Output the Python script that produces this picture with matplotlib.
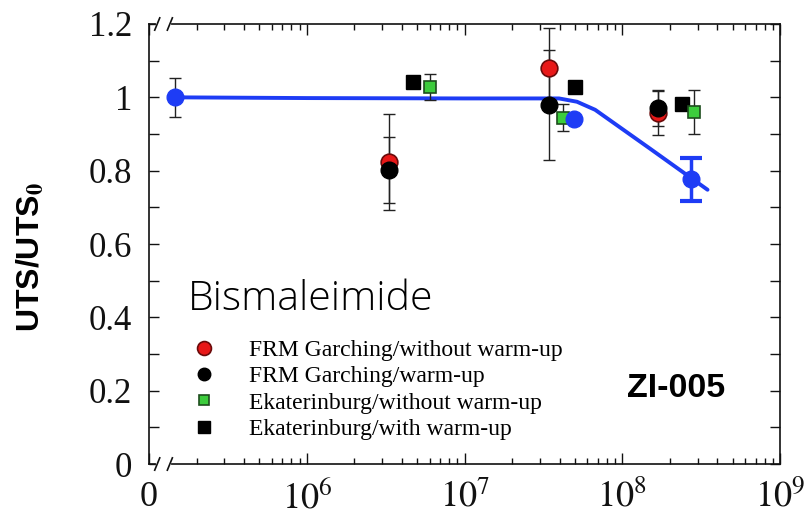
import numpy as np
import matplotlib
matplotlib.use("Agg")
import matplotlib.pyplot as plt
from matplotlib.lines import Line2D
from matplotlib.ticker import FixedLocator, FixedFormatter, MultipleLocator

plt.rcParams.update({"mathtext.fontset": "stix", "font.family": "Liberation Serif"})

# dose axis (the "0" dose sits at the left edge, 1e5 on the log scale)
x_ticks = [1e5, 1e6, 1e7, 1e8, 1e9]
x_labels = ["0", "$10^{6}$", "$10^{7}$", "$10^{8}$", "$10^{9}$"]

# FRM Garching / without warm-up
frm_no_x = [3.33e6, 3.43e7, 1.69e8]
frm_no_y = [0.824, 1.080, 0.958]
frm_no_err = [0.13, 0.11, 0.06]
# FRM Garching / warm-up
frm_w_x = [3.33e6, 3.43e7, 1.69e8]
frm_w_y = [0.803, 0.980, 0.971]
frm_w_err = [0.09, 0.15, 0.05]
# Ekaterinburg / without warm-up
ek_no_x = [6.07e6, 4.2e7, 2.83e8]
ek_no_y = [1.028, 0.944, 0.961]
ek_no_err = [0.035, 0.037, 0.06]
# Ekaterinburg / with warm-up
ek_w_x = [4.73e6, 5.0e7, 2.38e8]
ek_w_y = [1.042, 1.028, 0.982]
# blue overlay (reference + new data)
blue_x = [1.46e5, 4.94e7, 2.71e8]
blue_y = [1.0, 0.941, 0.776]
blue_err = [0.053, 0.0, 0.058]
# hand-drawn trend line
fit_x = [1.46e5, 1e6, 1e7, 3.97e7, 5.16e7, 6.73e7, 1.5e8, 2.71e8, 3.47e8]
fit_y = [1.0, 0.998, 0.997, 0.997, 0.988, 0.966, 0.860, 0.781, 0.748]

RED, GREEN, BLUE = "#e81818", "#3ccc3c", "#1e3cf5"

fig = plt.figure(figsize=(8.06, 5.15), dpi=100)
ax = fig.add_axes([0.1849, 0.099, 0.7829, 0.8544])
ax.set_xscale("log")
ax.set_xlim(1e5, 1e9)
ax.set_ylim(0, 1.2)

ax.plot(fit_x, fit_y, color=BLUE, lw=2.8, zorder=2, solid_capstyle="round")

eb = dict(fmt="none", ecolor="#222222", elinewidth=1.0, capsize=4, capthick=1.0, zorder=3)
ax.errorbar(frm_no_x, frm_no_y, yerr=frm_no_err, **eb)
ax.errorbar(frm_w_x, frm_w_y, yerr=frm_w_err, **eb)
ax.errorbar(ek_no_x, ek_no_y, yerr=ek_no_err, **eb)
ax.errorbar(blue_x[:1], blue_y[:1], yerr=blue_err[:1], **eb)
ax.errorbar(blue_x[2:], blue_y[2:], yerr=blue_err[2:], fmt="none", ecolor=BLUE,
            elinewidth=2.5, capsize=8, capthick=3, zorder=3)

ax.plot(frm_no_x, frm_no_y, "o", ms=12, mfc=RED, mec="#6a0a0a", mew=1.2, ls="none", zorder=4)
ax.plot(frm_w_x, frm_w_y, "o", ms=12, mfc="black", mec="black", ls="none", zorder=5)
ax.plot(ek_w_x, ek_w_y, "s", ms=10, mfc="black", mec="black", ls="none", zorder=4)
ax.plot(ek_no_x, ek_no_y, "s", ms=9, mfc=GREEN, mec="#1d4d1d", mew=1.2, ls="none", zorder=5)
ax.plot(blue_x, blue_y, "o", ms=12, mfc=BLUE, mec=BLUE, ls="none", zorder=6)

# axes / ticks
ax.xaxis.set_major_locator(FixedLocator(x_ticks))
ax.xaxis.set_major_formatter(FixedFormatter(x_labels))
minors = [m * 10**e for e in range(5, 9) for m in range(2, 10)]
ax.xaxis.set_minor_locator(FixedLocator(minors))
ax.xaxis.set_minor_formatter(FixedFormatter([""] * len(minors)))
ax.yaxis.set_minor_locator(MultipleLocator(0.1))
ax.set_yticks([0, 0.2, 0.4, 0.6, 0.8, 1.0, 1.2])
ax.set_yticklabels(["0", "0.2", "0.4", "0.6", "0.8", "1", "1.2"])
ax.tick_params(which="both", direction="in", top=True, right=True, width=1.0,
               labelsize=25, colors="#111111")
ax.tick_params(axis="x", which="major", length=8, pad=12, labelsize=26)
ax.tick_params(axis="x", which="minor", length=4.5)
ax.tick_params(axis="y", which="both", length=7, pad=12)
for s in ax.spines.values():
    s.set_linewidth(1.2)
    s.set_color("#111111")

# axis break marks near the zero dose
for yb in (0, 1):
    ax.plot([0.015, 0.032], [yb, yb], color="white", lw=3, transform=ax.transAxes,
            clip_on=False, zorder=10)
    for xb in (0.013, 0.033):
        ax.plot([xb - 0.004, xb + 0.004], [yb - 0.014, yb + 0.014], color="#111111",
                lw=1.2, transform=ax.transAxes, clip_on=False, zorder=11)

ax.set_ylabel("UTS/UTS$_\\mathbf{0}$", fontsize=23, fontweight="bold",
              family="Liberation Sans")
ax.yaxis.set_label_coords(-0.162, 0.47)

ax.text(1.5e5 * 1.17, 0.419, "Bismaleimide", fontsize=29.5, family="Open Sans",
        fontweight="light", ha="left", va="baseline")
ax.text(0.836, 0.172, "ZI-005", transform=ax.transAxes, fontsize=24.5, fontweight="bold",
        family="Liberation Sans", ha="center", va="center")

handles = [
    Line2D([], [], ls="none", marker="o", ms=10, mfc=RED, mec="#6a0a0a", mew=1.2),
    Line2D([], [], ls="none", marker="o", ms=9, mfc="black", mec="black"),
    Line2D([], [], ls="none", marker="s", ms=7.5, mfc=GREEN, mec="#1d4d1d", mew=1.2),
    Line2D([], [], ls="none", marker="s", ms=8, mfc="black", mec="black"),
]
labels = ["FRM Garching/without warm-up", "FRM Garching/warm-up",
          "Ekaterinburg/without warm-up", "Ekaterinburg/with warm-up"]
ax.legend(handles, labels, loc="upper left", bbox_to_anchor=(0.068, 0.283),
          frameon=False, handlelength=1.0, handletextpad=1.4,
          labelspacing=0.2, borderpad=0, borderaxespad=0,
          prop={"family": "Liberation Serif", "size": 17})

fig.savefig("out.png", dpi=100)
